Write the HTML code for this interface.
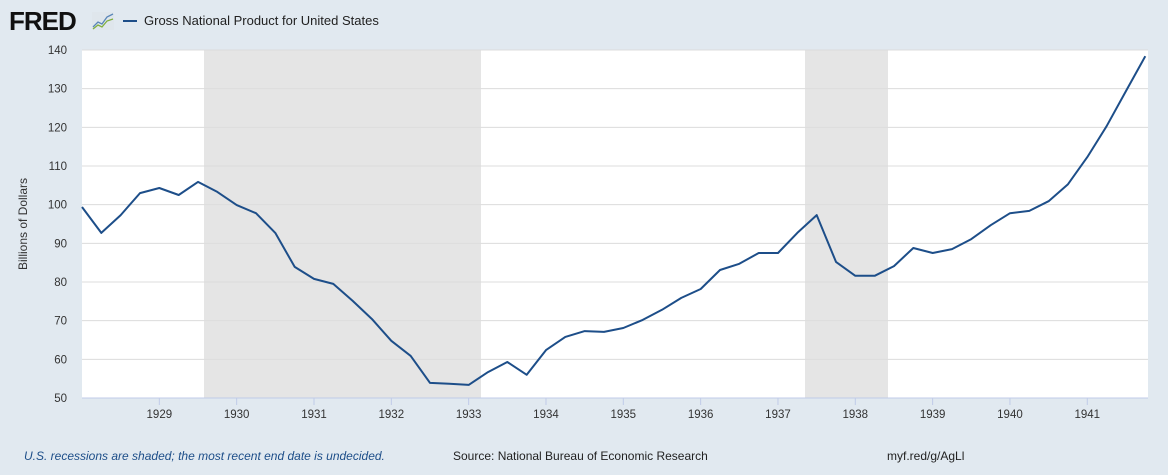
<!DOCTYPE html>
<html><head><meta charset="utf-8"><style>
html,body{margin:0;padding:0;background:#e1e9f0;}
body{width:1168px;height:470px;overflow:hidden;font-family:"Liberation Sans",sans-serif;}
text{font-family:"Liberation Sans",sans-serif;}
</style></head><body>
<svg id="s" width="1168" height="470" xmlns="http://www.w3.org/2000/svg">
<rect width="1168" height="470" fill="#e1e9f0"/>
<text x="9" y="30" font-size="26" font-weight="bold" fill="#111" letter-spacing="-1">FRED</text>
<rect x="92" y="12" width="22" height="18" fill="#dfe6ec"/>
<polyline points="93,27 98,22 102,24 107,17 113,14" fill="none" stroke="#5a86b8" stroke-width="1.3"/>
<polyline points="93,29 98,25 102,27 107,21 113,19" fill="none" stroke="#7fae3c" stroke-width="1.3"/>
<line x1="123" y1="21" x2="137" y2="21" stroke="#1d4e89" stroke-width="2"/>
<text x="144" y="25" font-size="13" fill="#222">Gross National Product for United States</text>
<rect x="82" y="50" width="1066" height="348" fill="#fff"/>
<rect x="204" y="50" width="277" height="348" fill="#e5e5e5"/>
<rect x="805" y="50" width="83" height="348" fill="#e5e5e5"/>
<g id="grid"></g>
<line x1="82" y1="398" x2="1148" y2="398" stroke="#c0cbe8" stroke-width="1"/>
<text transform="translate(27,224) rotate(-90)" text-anchor="middle" font-size="12" fill="#333">Billions of Dollars</text>
<polyline id="ln" fill="none" stroke="#1d4e89" stroke-width="2" stroke-linejoin="round"/>
<text x="24" y="460" font-size="12" font-style="italic" fill="#1d4e89">U.S. recessions are shaded; the most recent end date is undecided.</text>
<text x="453" y="460" font-size="12" fill="#222">Source: National Bureau of Economic Research</text>
<text x="887" y="460" font-size="12" fill="#222">myf.red/g/AgLl</text>
</svg>
<script>
var ns="http://www.w3.org/2000/svg",g=document.getElementById("grid");
function el(t,a,txt){var e=document.createElementNS(ns,t);for(var k in a)e.setAttribute(k,a[k]);if(txt)e.textContent=txt;g.appendChild(e);}
for(var v=50;v<=140;v+=10){var y=398-(v-50)*348/90;
 if(v>50)el("line",{x1:82,x2:1148,y1:y,y2:y,stroke:"#dcdcdc","stroke-width":1});
 el("text",{x:67,y:y+4,"text-anchor":"end","font-size":11.5,fill:"#333"},""+v);}
for(var yr=1929;yr<=1941;yr++){var x=82+(yr-1928)*77.33;
 el("line",{x1:x,x2:x,y1:398,y2:405,stroke:"#c0cbe8"});
 el("text",{x:x,y:418,"text-anchor":"middle","font-size":11.5,fill:"#333"},""+yr);}
var d=[99.4,92.7,97.3,103,104.3,102.5,105.9,103.3,99.9,97.8,92.7,83.9,80.8,79.5,75.1,70.4,64.8,60.9,53.9,53.7,53.4,56.7,59.3,56,62.4,65.8,67.3,67.1,68.1,70.2,72.8,75.9,78.2,83.1,84.7,87.5,87.5,92.7,97.3,85.2,81.6,81.6,84.1,88.8,87.5,88.5,91.1,94.7,97.8,98.4,100.9,105.3,112.3,120.3,129.4,138.4];
var p=d.map(function(v,i){return (82+i*19.333).toFixed(1)+","+(398-(v-50)*348/90).toFixed(1)}).join(" ");
document.getElementById("ln").setAttribute("points",p);
</script>
</body></html>
